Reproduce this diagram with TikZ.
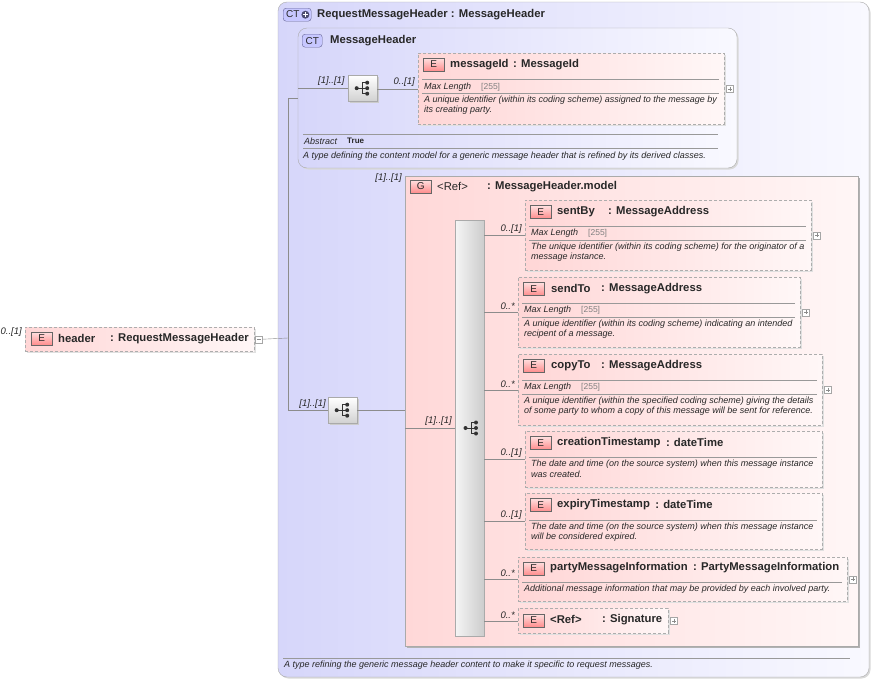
\documentclass[tikz,border=0pt]{standalone}
\usepackage{fontspec}
\setmainfont{Liberation Sans}
\usetikzlibrary{calc}
\definecolor{lavL}{RGB}{214,214,250}
\definecolor{lavR}{RGB}{249,249,255}
\definecolor{pinkL}{RGB}{255,214,214}
\definecolor{pinkR}{RGB}{255,247,247}
\definecolor{gpinkL}{RGB}{255,216,216}
\definecolor{gpinkR}{RGB}{255,246,246}
\definecolor{edgeG}{RGB}{170,170,170}
\definecolor{lineG}{RGB}{140,140,140}
\definecolor{txtC}{RGB}{40,40,40}
\newcommand\fT{\fontsize{11.3}{13}\selectfont\bfseries}
\newcommand\fS{\fontsize{9}{11}\selectfont\itshape}
\newcommand\fMu{\fontsize{9.5}{11}\selectfont\itshape}
\newcommand\fB{\fontsize{10}{11}\selectfont}
\newcommand\fG{\fontsize{8.5}{10}\selectfont}
\begin{document}
\begin{tikzpicture}[x=1pt,y=-1pt,
  ctbox/.style={draw=edgeG, rounded corners=9pt, left color=lavL, right color=lavR,
     preaction={fill=black!15, rounded corners=9pt, transform canvas={shift={(1.5pt,-1.5pt)}}}},
  gbox/.style={draw=edgeG, left color=gpinkL, right color=gpinkR, inner sep=0,
     preaction={fill=black!30, transform canvas={shift={(2pt,-2pt)}}}},
  elem/.style={draw=black!32, dash pattern=on 3pt off 2pt, left color=pinkL, right color=pinkR,
     inner sep=0, anchor=north west,
     preaction={fill=black!12, transform canvas={shift={(1.5pt,-1.5pt)}}}},
  seqbox/.style={draw=edgeG, inner sep=0, minimum width=29pt, minimum height=26pt,
     top color=white, bottom color=black!18,
     preaction={fill=black!20, transform canvas={shift={(1.5pt,-1.5pt)}}}},
  bar/.style={draw=edgeG, inner sep=0, left color=black!4, right color=black!20},
  ebadge/.style={draw=black!60, top color=red!12, bottom color=red!45, inner sep=0,
     minimum width=21pt, minimum height=13pt, font=\fB, text=txtC},
  ctbadge/.style={draw=blue!30!black!60, fill=blue!22!white, rounded corners=3pt, inner sep=0,
     minimum height=13pt, font=\fB, text=txtC},
  title/.style={inner sep=0, anchor=west, font=\fT, text=txtC},
  small/.style={inner sep=0, anchor=west, font=\fS, text=txtC},
  gray/.style={inner sep=0, anchor=west, font=\fG, text=black!50},
  mult/.style={inner sep=0, anchor=south east, font=\fMu, text=txtC},
  sepl/.style={draw=black!40},
  conn/.style={draw=lineG},
  glyph/.style={fill=black!80, draw=none},
  pbox/.style={draw=black!35, fill=white, minimum size=7pt, inner sep=0, anchor=west,
     path picture={\draw[black!45] ([xshift=1.5pt]path picture bounding box.west) -- ([xshift=-1.5pt]path picture bounding box.east)
       ([yshift=-1.5pt]path picture bounding box.north) -- ([yshift=1.5pt]path picture bounding box.south);}},
  mbox/.style={draw=black!35, fill=white, minimum size=7pt, inner sep=0, anchor=west,
     path picture={\draw[black!45] ([xshift=1.5pt]path picture bounding box.west) -- ([xshift=-1.5pt]path picture bounding box.east);}}
]
\useasboundingbox (0,0) rectangle (873,680);
\fill[white] (0,0) rectangle (873,680);

% glyph macro: sequence compositor icon centred at #1
\newcommand\seqglyph[1]{%
  \draw[black!80, line width=0.9pt] ($(#1)+(-6,0)$) -- ($(#1)+(-0.5,0)$)
     ($(#1)+(-0.5,-5.5)$) -- ($(#1)+(-0.5,5.5)$)
     ($(#1)+(-0.5,-5.5)$) -- ($(#1)+(4.5,-5.5)$)
     ($(#1)+(-0.5,0)$) -- ($(#1)+(4.5,0)$)
     ($(#1)+(-0.5,5.5)$) -- ($(#1)+(4.5,5.5)$);
  \fill[glyph] ($(#1)+(-6,0)$) circle[radius=2pt];
  \fill[glyph] ($(#1)+(4.5,-5.5)$) circle[radius=2pt];
  \fill[glyph] ($(#1)+(4.5,0)$) circle[radius=2pt];
  \fill[glyph] ($(#1)+(4.5,5.5)$) circle[radius=2pt];
}

% ---------- outer complex type ----------
\path[ctbox] (278,2) rectangle (869,677);
\node[ctbadge, minimum width=28pt, anchor=north west] (ctplus) at (283,8) {};
\node[inner sep=0, anchor=west, font=\fB, text=txtC] (ctplusT) at (286,14.5) {CT};
\fill[blue!20!black!70] ($(ctplus.east)+(-6,0)$) circle[radius=4pt];
\draw[white, line width=1.1pt] ($(ctplus.east)+(-8.5,0)$) -- ($(ctplus.east)+(-3.5,0)$) ($(ctplus.east)+(-6,-2.5)$) -- ($(ctplus.east)+(-6,2.5)$);
\node[title] (rmhT) at (317,14.5) {RequestMessageHeader : MessageHeader};
\draw[sepl] (283,658) -- (850,658);
\node[small] (rmhD) at (284,665.5) {A type refining the generic message header content to make it specific to request messages.};

% ---------- MessageHeader complex type ----------
\path[ctbox] (298,28) rectangle (737,168);
\coordinate (mhL) at (298,98);
\node[ctbadge, minimum width=20pt, anchor=north west] (ctb) at (302,34) {CT};
\node[title] (mhT) at (330,40.5) {MessageHeader};
\node[seqbox, anchor=north west] (seq1) at (348,75) {};
\seqglyph{seq1.center}
\coordinate (mhIn) at (298,88);
\draw[conn] (mhIn) -- (seq1.west |- mhIn);
\node[mult, anchor=south west] at (318,86) {[1]..[1]};
\draw[sepl] (303,134) -- (718,134);
\node[small] at (304,141.5) {Abstract};
\node[inner sep=0, anchor=west, font=\fontsize{8}{9}\selectfont\bfseries, text=txtC] at (347,141) {True};
\draw[sepl] (303,148) -- (718,148);
\node[small] at (303,156.5) {A type defining the content model for a generic message header that is refined by its derived classes.};

% messageId
\node[elem, minimum width=306pt, minimum height=71pt] (mid) at (418,53) {};
\node[ebadge, anchor=west] at (423,64.5) {E};
\node[title] at (450,64.5) {messageId};
\node[title] at (513,64.5) {: MessageId};
\draw[sepl] (422,79) -- (719,79);
\node[small] at (424,87) {Max Length};
\node[gray] at (481,87) {[255]};
\draw[sepl] (422,93) -- (719,93);
\node[small] at (424,100.5) {A unique identifier (within its coding scheme) assigned to the message by};
\node[small] at (424,110.5) {its creating party.};
\node[pbox] at ($(mid.east)+(2,0)$) {};
\draw[conn] (seq1.east |- mid.west) -- (mid.west);
\node[mult] at ($(mid.west)+(-3,-2)$) {0..[1]};

% ---------- header element ----------
\node[elem, minimum width=229pt, minimum height=24pt] (hdr) at (25,327) {};
\node[ebadge, anchor=west] at (31,338.5) {E};
\node[title] at (58,338.5) {header};
\node[title] at (110,338.5) {: RequestMessageHeader};
\node[mbox] (hmin) at ($(hdr.east)+(1,0)$) {};
\node[inner sep=0, anchor=north east, font=\fMu, text=txtC] at (22,327) {0..[1]};

% ---------- outer sequence ----------
\coordinate (vx) at (288,338);
\node[seqbox, anchor=north west] (seq2) at (328,397) {};
\seqglyph{seq2.center}
\draw[conn] (hmin.east) -- (vx);
\draw[conn] (mhL -| vx) -- (seq2.west -| vx);
\draw[conn] (mhL -| vx) -- (mhL);
\draw[conn] (seq2.west -| vx) -- (seq2.west);
\node[mult] at ($(seq2.west)+(-2,-2)$) {[1]..[1]};

% ---------- group ----------
\node[gbox, anchor=north west, minimum width=453pt, minimum height=470pt] (grp) at (405,176) {};
\node[ebadge, anchor=west] at (410,186.5) {G};
\node[title, font=\fontsize{11.3}{13}\selectfont] at (437,186.5) {<Ref>};
\node[title] at (487,186.5) {: MessageHeader.model};
\node[mult] at (402,183) {[1]..[1]};
\draw[conn] (seq2.east) -- (seq2.east -| grp.west);

\node[bar, anchor=north west, minimum width=29pt, minimum height=416pt] (bar) at (455,220) {};
\coordinate (barG) at (471.5,428);
\seqglyph{barG}
\coordinate (gIn) at (405,428);
\draw[conn] (gIn) -- (gIn -| bar.west);
\node[mult] at ($(gIn -| bar.west)+(-3,-2)$) {[1]..[1]};

% sentBy
\node[elem, minimum width=286pt, minimum height=70pt] (sby) at (525,200) {};
\node[ebadge, anchor=west] at (530,212) {E};
\node[title] at (557,212) {sentBy};
\node[title] at (608,212) {: MessageAddress};
\draw[sepl] (529,226) -- (806,226);
\node[small] at (531,233.5) {Max Length};
\node[gray] at (588,233.5) {[255]};
\draw[sepl] (529,240) -- (806,240);
\node[small] at (531,247.5) {The unique identifier (within its coding scheme) for the originator of a};
\node[small] at (531,257.5) {message instance.};
\node[pbox] at ($(sby.east)+(2,0)$) {};
\draw[conn] (bar.east |- sby.west) -- (sby.west);
\node[mult] at ($(sby.west)+(-3,-2)$) {0..[1]};

% sendTo
\node[elem, minimum width=282pt, minimum height=70pt] (sto) at (518,277) {};
\node[ebadge, anchor=west] at (523,289) {E};
\node[title] at (551,288.5) {sendTo};
\node[title] at (601,288.5) {: MessageAddress};
\draw[sepl] (522,303) -- (795,303);
\node[small] at (524,310.5) {Max Length};
\node[gray] at (581,310.5) {[255]};
\draw[sepl] (522,317) -- (795,317);
\node[small] at (524,324.5) {A unique identifier (within its coding scheme) indicating an intended};
\node[small] at (524,334.5) {recipent of a message.};
\node[pbox] at ($(sto.east)+(2,0)$) {};
\draw[conn] (bar.east |- sto.west) -- (sto.west);
\node[mult] at ($(sto.west)+(-3,-2)$) {0..*};

% copyTo
\node[elem, minimum width=304pt, minimum height=71pt] (cto) at (518,354) {};
\node[ebadge, anchor=west] at (523,365.5) {E};
\node[title] at (551,365.5) {copyTo};
\node[title] at (601,365.5) {: MessageAddress};
\draw[sepl] (522,380) -- (817,380);
\node[small] at (524,387.5) {Max Length};
\node[gray] at (581,387.5) {[255]};
\draw[sepl] (522,394) -- (817,394);
\node[small] at (524,401.5) {A unique identifier (within the specified coding scheme) giving the details};
\node[small] at (524,411.5) {of some party to whom a copy of this message will be sent for reference.};
\node[pbox] at ($(cto.east)+(2,0)$) {};
\draw[conn] (bar.east |- cto.west) -- (cto.west);
\node[mult] at ($(cto.west)+(-3,-2)$) {0..*};

% creationTimestamp
\node[elem, minimum width=297pt, minimum height=56pt] (cts) at (525,431) {};
\node[ebadge, anchor=west] at (530,443) {E};
\node[title] (ctsN) at (557,442.5) {creationTimestamp};
\node[title] at ($(ctsN.east)+(5,0)$) {: dateTime};
\draw[sepl] (529,457) -- (817,457);
\node[small] at (531,464.5) {The date and time (on the source system) when this message instance};
\node[small] at (531,474.5) {was created.};
\draw[conn] (bar.east |- cts.west) -- (cts.west);
\node[mult] at ($(cts.west)+(-3,-2)$) {0..[1]};

% expiryTimestamp
\node[elem, minimum width=297pt, minimum height=56pt] (ets) at (525,493) {};
\node[ebadge, anchor=west] at (530,505) {E};
\node[title] (etsN) at (557,504.5) {expiryTimestamp};
\node[title] at ($(etsN.east)+(5,0)$) {: dateTime};
\draw[sepl] (529,520) -- (817,520);
\node[small] at (531,527.5) {The date and time (on the source system) when this message instance};
\node[small] at (531,537.5) {will be considered expired.};
\draw[conn] (bar.east |- ets.west) -- (ets.west);
\node[mult] at ($(ets.west)+(-3,-2)$) {0..[1]};

% partyMessageInformation
\node[elem, minimum width=329pt, minimum height=44pt] (pmi) at (518,557) {};
\node[ebadge, anchor=west] at (523,568.5) {E};
\node[title] (pmiN) at (550,568) {partyMessageInformation};
\node[title] at ($(pmiN.east)+(5,0)$) {: PartyMessageInformation};
\draw[sepl] (522,582) -- (842,582);
\node[small] at (524,589.5) {Additional message information that may be provided by each involved party.};
\node[pbox] at ($(pmi.east)+(2,0)$) {};
\draw[conn] (bar.east |- pmi.west) -- (pmi.west);
\node[mult] at ($(pmi.west)+(-3,-2)$) {0..*};

% Signature
\node[elem, minimum width=150pt, minimum height=25pt] (sig) at (518,608) {};
\node[ebadge, anchor=west] at (523,620.5) {E};
\node[title] at (550,619.5) {<Ref>};
\node[title] at (602,619.5) {: Signature};
\node[pbox] at ($(sig.east)+(2,0)$) {};
\draw[conn] (bar.east |- sig.west) -- (sig.west);
\node[mult] at ($(sig.west)+(-3,-2)$) {0..*};
\end{tikzpicture}
\end{document}
